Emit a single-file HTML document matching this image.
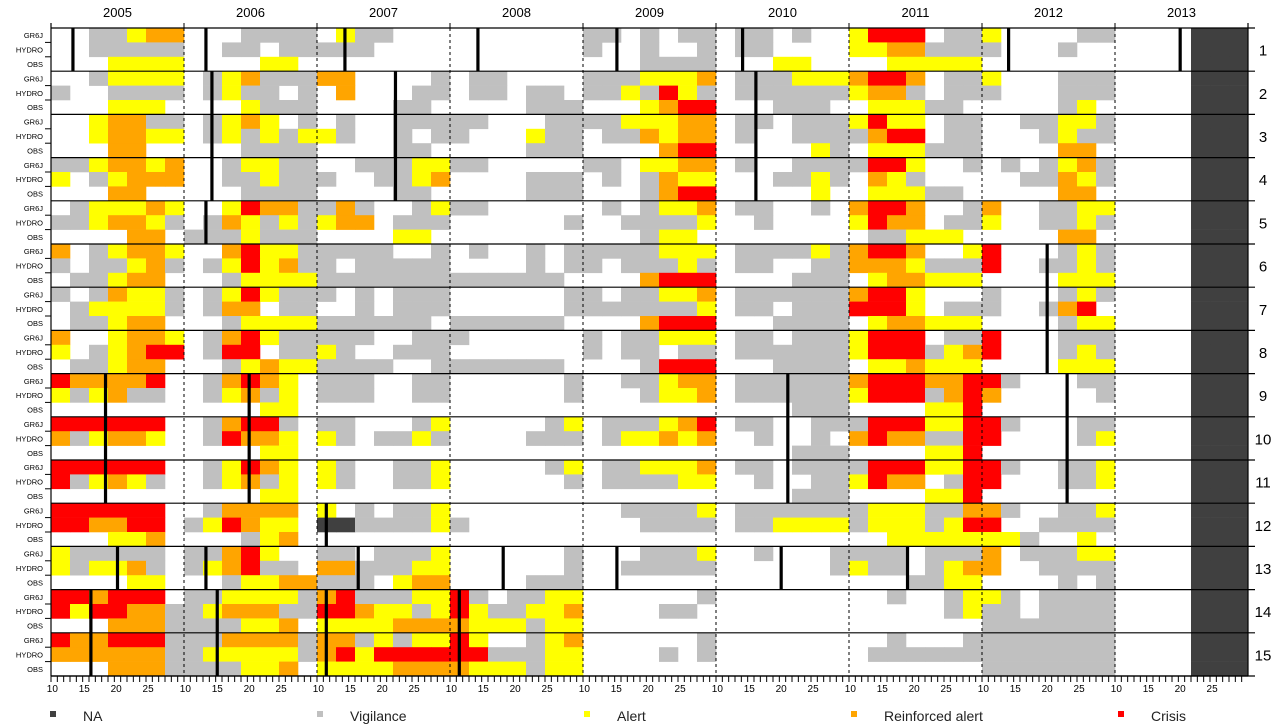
<!DOCTYPE html>
<html><head><meta charset="utf-8">
<style>
html,body{margin:0;padding:0;background:#fff;}
svg{display:block;font-family:"Liberation Sans",Arial,sans-serif;}
</style></head>
<body>
<svg id="chart" width="1278" height="725" viewBox="0 0 1278 725" xmlns="http://www.w3.org/2000/svg"></svg>
<script>
const years = ["2005","2006","2007","2008","2009","2010","2011","2012","2013"];
const groupLabels = ["1","2","3","4","5","6","7","8","9","10","11","12","13","14","15"];
const rowNames = ["GR6J","HYDRO","OBS"];
const statusNames = ["none","Vigilance","Alert","Reinforced alert","Crisis","NA"];
const tickLabels = ["10","15","20","25"];
const tickWeeks = [10,15,20,25];
const legendNames = ["NA","Vigilance","Alert","Reinforced alert","Crisis"];
const legendCodes = [5,1,2,3,4];
// one string per row (GR6J, HYDRO, OBS for each catchment); blocks per year; each char = status code
const rowData = [
"0011233 0001111 0211000 0000000 1101011 0110100 2444011 2000011 0000555",
"0011111 0011011 1110000 0000000 1001001 0110000 2233111 1000100 0000555",
"0002222 0000220 0000000 0000000 0001111 0002200 0022222 0000000 0000555",
"0012222 0123111 3300001 0110000 1112223 0111222 3443011 2000111 0000555",
"1001111 0121101 0300011 0110110 1121421 0111111 2331011 1000111 0000555",
"0002220 0002111 0000110 0000111 0002344 0001110 0222110 0000120 0000555",
"0023311 0123201 0100111 1100011 1122233 0110111 2422011 0011221 0000555",
"0023322 0121212 2100101 1000211 0113233 0100111 1344011 0001211 0000555",
"0003300 0001111 0000110 0000111 0000344 0000021 0222111 0000330 0000555",
"1123323 0012211 0011122 1100000 1102233 0100111 1442001 0101231 0000555",
"2012333 0011211 1001123 0000111 0101322 0001121 0321000 0011321 0000555",
"0003300 0001111 0000110 0000111 0001344 0000020 0222110 0000330 0000555",
"0122232 0024331 1310012 1100000 0101223 0110010 3443001 3001122 0000555",
"1123321 0132121 2330111 0000001 0011112 0010000 2433011 2001121 0000555",
"0000330 1112111 0000220 0000000 0001220 0000000 0112220 0000330 0000555",
"3012332 0034221 1111001 0100101 1111222 0111121 3443002 4000121 0000555",
"1011231 0124231 1011111 0000101 1011121 0110011 3332111 4001121 0000555",
"0112330 0012222 1111111 1111110 0003444 0000111 0233222 0000222 0000555",
"1013221 0124211 1010111 0000001 1011223 0111111 3442000 1000121 0000555",
"0122221 0133011 0010111 0000001 1111112 0110111 4442011 1001340 0000555",
"0112330 0012222 1111110 1111110 0003444 0001111 0233222 0000122 0000555",
"3002332 0134211 1110011 1000000 1011222 0110111 2444011 4000111 0000555",
"2012344 0144011 2100111 0000000 1011011 0111111 2444123 4000121 0000555",
"0112330 0012322 1111001 1111110 0001444 0001111 0223222 0000222 0000555",
"4333340 0134320 1110011 0000001 0011233 0111111 3444334 4100011 0000555",
"2123110 0123120 1110011 0000001 0001223 0111111 2444134 3000001 0000555",
"0000000 0000220 0000000 0000000 0000000 0000111 0000224 0000000 0000555",
"4444440 0134410 1100012 0000012 0111234 0110011 1444224 4100011 0000555",
"3123320 0143320 2101121 0000111 0122323 0010010 3433114 4000012 0000555",
"0000000 0000220 0000000 0000000 0000000 0000111 0000224 0000000 0000555",
"4444440 0124320 2100112 0000012 0112223 0110111 1444224 4100112 0000555",
"4123210 0123120 2100112 0000001 0111122 0010011 2433014 4000112 0000555",
"0000000 0000220 0000000 0000000 0000000 0000111 0000224 0000000 0000555",
"4444440 0133330 2010112 0000000 0011112 0111111 1222113 3100112 0000555",
"4433440 1243220 5511112 1000000 0001111 0112222 1222124 4001111 0000555",
"0002230 0001230 0000000 0000000 0000000 0000000 0022222 2210020 0000555",
"2111110 1134200 1101112 0000001 0001112 0010001 1110111 3011122 0000555",
"2122310 1234110 3311122 0000001 0011111 0000001 2110123 3001111 0000555",
"0000220 0012233 1110233 0000111 0000000 0000000 0001122 0000101 0000555",
"4434440 1122221 3411122 4101122 0000001 0000000 0010012 2101111 0000555",
"4244331 1233311 4432212 4211223 0000110 0000000 0000012 1101111 0000555",
"0003331 1112230 2222333 3222122 0000000 0000000 0000000 1111111 0000555",
"4334441 1133331 3312122 4200123 0000001 0000000 0010001 1111111 0000555",
"3333331 1222221 3424444 4411122 0000101 0000000 0111111 1111111 0000555",
"0003331 1112230 2222333 3222122 0000000 0000000 0000000 1111111 0000555"
];
// event dates (fractional year) and first/last catchment spanned
const eventTimes  = [2005.165,2006.165,2007.21,2008.21,2009.255,2010.20,2012.20,2013.49,2006.21,2007.59,2010.30,2006.165,2012.49,2005.41,2006.49,2010.54,2012.64,2007.07,2005.50,2006.165,2007.31,2008.40,2009.255,2010.49,2011.44,2005.30,2006.25,2007.07,2008.07];
const eventFirstGroup = [1,1,1,1,1,1,1,1,2,2,2,5,6,9,9,9,9,12,13,13,13,13,13,13,13,14,14,14,14];
const eventLastGroup  = [1,1,1,1,1,1,1,1,4,4,4,5,8,11,11,11,11,12,13,13,13,13,13,13,13,15,15,15,15];

const colors = ["#ffffff","#c0c0c0","#ffff00","#ffa500","#ff0000","#404040"];
const NS = "http://www.w3.org/2000/svg";
const svg = document.getElementById("chart");
const L = 51, R = 1248, T = 28, GH = 43.2, RH = GH/3;
const YW = (R - L) / years.length;
const B = T + GH * groupLabels.length;
function mk(tag, attrs, parent){const e=document.createElementNS(NS,tag);for(const k in attrs)e.setAttribute(k,attrs[k]);(parent||svg).appendChild(e);return e;}
function xYear(t){return L + (t - 2005) * YW;}
function xCell(yi, ci, n){return L + yi*YW + ci*YW/n;}
function yRow(ri){return T + ri*RH;}
function yGroup(g){return T + g*GH;}

const cellsG = mk("g",{});


rowData.forEach((s, ri) => {
  const blocks = s.split(" ");
  blocks.forEach((b, yi) => {
    const n = b.length;
    for (let ci = 0; ci < n; ci++) {
      const code = +b[ci];
      if (code === 0) continue;
      const x0 = xCell(yi, ci, n), x1 = xCell(yi, ci+1, n);
      const r = mk("rect",{x:x0.toFixed(2),y:yRow(ri).toFixed(2),width:(x1-x0+0.3).toFixed(2),height:(RH+0.3).toFixed(2),fill:colors[code]},cellsG);
      
      
    }
  });
});

// year dashed separators
for (let i = 1; i < years.length; i++) {
  const x = L + i*YW;
  const l = mk("line",{x1:x,y1:T,x2:x,y2:B,stroke:"#000","stroke-width":1,"stroke-dasharray":"3,3"});
  
  
  const tk = mk("line",{x1:x,y1:T-5,x2:x,y2:T,stroke:"#000","stroke-width":1});
  
  
}
// group separators
for (let g = 0; g <= groupLabels.length; g++) {
  const y = yGroup(g);
  const l = mk("line",{x1:L,y1:y,x2:1255,y2:y,stroke:"#000","stroke-width":1.2});
  
  
}
// axes
const la = mk("line",{x1:L,y1:T-5,x2:L,y2:B,stroke:"#000","stroke-width":1.2});


const ra = mk("line",{x1:R,y1:T-5,x2:R,y2:B,stroke:"#000","stroke-width":1.2});



// year labels
years.forEach((yr, i) => {
  const t = mk("text",{x:L + (i+0.5)*YW, y:17, "text-anchor":"middle","font-size":13,fill:"#000"});
  t.textContent = yr;
  
  
});
// row labels and left ticks
for (let g = 0; g < groupLabels.length; g++) {
  rowNames.forEach((rn, r) => {
    const y = yRow(g*3 + r) + RH/2 + 3;
    const t = mk("text",{x:43,y:y,"text-anchor":"end","font-size":7.5,fill:"#000"});
    t.textContent = rn;
    
    
    if (r > 0) {
      const tk = mk("line",{x1:L-6,y1:yRow(g*3+r),x2:L,y2:yRow(g*3+r),stroke:"#000","stroke-width":1});
      
      
    }
  });
  const gl = mk("text",{x:1263,y:yGroup(g)+GH/2+6,"text-anchor":"middle","font-size":15,fill:"#000"});
  gl.textContent = groupLabels[g];
  
  
}
// events
eventTimes.forEach((t, i) => {
  const x = xYear(t);
  const l = mk("line",{x1:x,y1:yGroup(eventFirstGroup[i]-1),x2:x,y2:yGroup(eventLastGroup[i]),stroke:"#000","stroke-width":3.2});
  
  
});
// bottom axis
const ba = mk("line",{x1:L,y1:B,x2:R,y2:B,stroke:"#000","stroke-width":1.2});


const nTicks = 21;
for (let yi = 0; yi < years.length; yi++) {
  for (let k = 0; k < nTicks; k++) {
    const x = L + yi*YW + k*YW/nTicks;
    const tk = mk("line",{x1:x,y1:B,x2:x,y2:B+6,stroke:"#000","stroke-width":1});
    
    
  }
  tickLabels.forEach((lab, j) => {
    const frac = (tickWeeks[j]-10)*0.048 + 0.01;
    const t = mk("text",{x:L + yi*YW + frac*YW, y:B+16, "text-anchor":"middle","font-size":10,fill:"#000"});
    t.textContent = lab;
    
    
  });
}
// legend
legendNames.forEach((nm, i) => {
  const x0 = 50 + i*267;
  const sq = mk("rect",{x:x0,y:711,width:6,height:6,fill:colors[legendCodes[i]]});
  
  
  const t = mk("text",{x:x0+33,y:721,"font-size":14,fill:"#222"});
  t.textContent = nm;
  
  
});
</script>
</body></html>
